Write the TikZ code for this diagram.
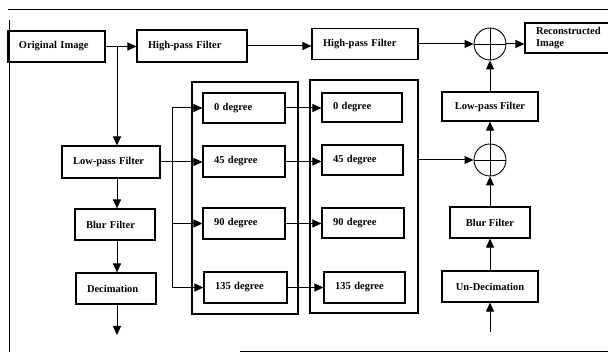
\documentclass[tikz,border=0pt]{standalone}
\usepackage{fontspec}
\setmainfont{Liberation Serif}
\usetikzlibrary{arrows.meta}
\tikzset{
  lbl/.style={font=\bfseries\fontsize{10.5}{11.5}\selectfont},
  lbox/.style={draw, line width=1.1pt, rectangle, lbl, inner xsep=11pt, inner ysep=0pt, align=left},
  cbox/.style={draw, line width=1.1pt, rectangle, lbl, inner sep=0pt, align=center},
  grp/.style={draw, line width=1.1pt, rectangle, inner sep=0pt},
  sumnode/.style={draw, line width=0.9pt, circle, inner sep=0pt, minimum size=32pt},
  arr/.style={line width=1pt, -{Triangle[length=9pt,width=8pt]}},
  ln/.style={line width=1pt},
  frame/.style={line width=1pt}
}
\begin{document}
\begin{tikzpicture}[x=1pt,y=-1pt]
\useasboundingbox (0,0) rectangle (608,355);
\clip (0,0) rectangle (608,355);
% frame lines of the figure
\draw[frame] (8,10) -- (608,10);
\draw[frame] (9,20) -- (9,352);
\draw[frame] (240,352) -- (608,352);
% groups
\node[grp, minimum width=106pt, minimum height=232pt] (gL) at (245,198) {};
\node[grp, minimum width=108pt, minimum height=233pt] (gR) at (364,196.5) {};
% left column
\node[lbox, minimum height=31pt, text width=75pt] (orig) at (56.5,46.5) {Original Image};
\node[lbox, minimum height=32pt, text width=88pt] (hpf1) at (192,46) {High-pass Filter};
\node[lbox, minimum height=32pt, text width=76pt] (lpf1) at (111,162) {Low-pass Filter};
\node[lbox, minimum height=31pt, text width=58pt] (blur1) at (115,224.5) {Blur Filter};
\node[lbox, minimum height=31pt, text width=58pt] (dec) at (116,288.5) {Decimation};
% degree boxes left
\node[lbox, minimum height=30pt, text width=60pt] (d0L) at (244,108) {0 degree};
\node[lbox, minimum height=31pt, text width=60pt] (d45L) at (244,161.5) {45 degree};
\node[lbox, minimum height=31pt, text width=60pt] (d90L) at (244,223.5) {90 degree};
\node[lbox, minimum height=31pt, text width=61pt] (d135L) at (245.5,287.5) {135 degree};
% degree boxes right
\node[lbox, minimum height=29pt, text width=58pt] (d0R) at (362,107.5) {0 degree};
\node[lbox, minimum height=30pt, text width=59pt] (d45R) at (362.5,160) {45 degree};
\node[lbox, minimum height=30pt, text width=60pt] (d90R) at (363,223) {90 degree};
\node[lbox, minimum height=31pt, text width=59pt] (d135R) at (364.5,287.5) {135 degree};
% right part
\node[lbox, minimum height=31pt, text width=84pt] (hpf2) at (365,44) {High-pass Filter};
\node[sumnode] (s1) at (490,44) {};
\node[sumnode] (s2) at (490,160) {};
\node[lbox, minimum height=30pt, text width=73pt] (recon) at (572.5,38) {Reconstructed\\Image};
\node[cbox, minimum width=96pt, minimum height=29pt] (lpf2) at (490,106.5) {Low-pass Filter};
\node[cbox, minimum width=80pt, minimum height=31pt] (blur2) at (490,222.5) {Blur Filter};
\node[cbox, minimum width=96pt, minimum height=31pt] (undec) at (490,286.5) {Un-Decimation};
% plus signs
\draw[line width=0.9pt] (s1.north) -- (s1.south) (s1.west) -- (s1.east);
\draw[line width=0.9pt] (s2.north) -- (s2.south) (s2.west) -- (s2.east);
% coordinates
\coordinate (j) at (117,46.5);
\coordinate (fan) at (172,0);
\coordinate (decout) at (117,335);
\coordinate (undecin) at (490,332);
% connectors top row
\draw[arr] (orig.east) -- (orig.east -| hpf1.west);
\draw[arr] (hpf1.east) -- (hpf1.east -| hpf2.west);
\draw[arr] (hpf2.east) -- (hpf2.east -| s1.west);
\draw[arr] (s1.east) -- (s1.east -| recon.west);
% left chain
\draw[arr] (j) -- (j |- lpf1.north);
\draw[arr] (lpf1.south -| j) -- (blur1.north -| j);
\draw[arr] (blur1.south -| j) -- (dec.north -| j);
\draw[arr] (dec.south -| j) -- (decout);
% fan out
\draw[arr] (lpf1.east) -- (lpf1.east -| d45L.west);
\draw[ln] (fan |- d0L.west) -- (fan |- d135L.west);
\draw[arr] (fan |- d0L.west) -- (d0L.west);
\draw[arr] (fan |- d90L.west) -- (d90L.west);
\draw[arr] (fan |- d135L.west) -- (d135L.west);
% between groups
\draw[arr] (d0L.east) -- (d0L.east -| d0R.west);
\draw[arr] (d45L.east) -- (d45L.east -| d45R.west);
\draw[arr] (d90L.east) -- (d90L.east -| d90R.west);
\draw[arr] (d135L.east) -- (d135L.east -| d135R.west);
% right chain
\draw[arr] (s2.west -| gR.east) -- (s2.west);
\draw[arr] (undecin) -- (undec.south);
\draw[arr] (undec.north) -- (blur2.south);
\draw[arr] (blur2.north) -- (s2.south);
\draw[arr] (s2.north) -- (lpf2.south);
\draw[arr] (lpf2.north) -- (s1.south);
\end{tikzpicture}
\end{document}
